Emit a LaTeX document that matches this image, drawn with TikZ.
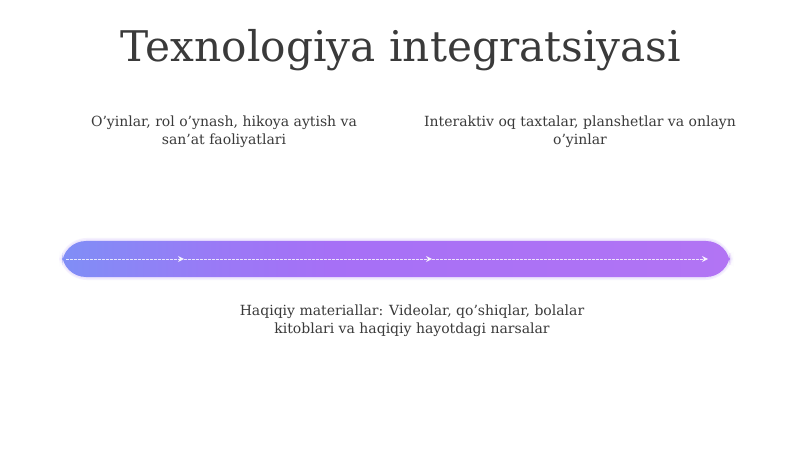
\documentclass[tikz,border=0pt]{standalone}
\usepackage{fontspec}
\setmainfont{DejaVu Serif}
\usetikzlibrary{arrows.meta}
\definecolor{txt}{HTML}{3A3A3A}
\definecolor{barA}{RGB}{128,142,246}
\definecolor{barB}{RGB}{166,112,246}
\definecolor{barC}{RGB}{178,116,244}
\definecolor{glow}{RGB}{205,180,250}
\pgfdeclarehorizontalshading{barshade}{100bp}{color(0bp)=(barA); color(25bp)=(barA); color(37bp)=(barA!30!barB); color(45bp)=(barB); color(75bp)=(barC); color(100bp)=(barC)}
\tikzset{
  lbl/.style={font=\fontsize{10.5pt}{13.5pt}\selectfont, text=txt, align=center, inner sep=0pt, anchor=base},
  flow/.style={draw=white, opacity=0.8, line width=0.6pt, dash pattern=on 2pt off 1pt, -{Stealth[length=4.5pt,width=4.5pt]}}
}
\begin{document}
\begin{tikzpicture}[x=0.75pt,y=-0.75pt]
\path[use as bounding box, fill=white] (0,0) rectangle (800,449);
% title
\node[font=\fontsize{31.7pt}{36pt}\selectfont, text=txt, inner sep=0pt, anchor=base] (title) at (401,62) {Texnologiya integratsiyasi};
% glow and bar
\fill[glow, opacity=0.18, rounded corners=21] (59,238) rectangle (733,280);
\fill[glow, opacity=0.18, rounded corners=19.5] (60.5,239.5) rectangle (731.5,278.5);
\path[shading=barshade, rounded corners=18] (62,241) rectangle (730,277);
\coordinate (s) at (66,259);
\coordinate (a1) at (184,259);
\coordinate (a2) at (432,259);
\coordinate (e) at (708,259);
\draw[flow] (s) -- (a1);
\draw[flow] (a1) -- (a2);
\draw[flow] (a2) -- (e);
% labels
\node[lbl] (left) at (224,145) {O'yinlar, rol o'ynash, hikoya aytish va\\san'at faoliyatlari};
\node[lbl] (right) at (580,145) {Interaktiv oq taxtalar, planshetlar va onlayn\\o'yinlar};
\node[lbl] (bottom) at (412,333) {Haqiqiy materiallar: Videolar, qo'shiqlar, bolalar\\kitoblari va haqiqiy hayotdagi narsalar};
\end{tikzpicture}
\end{document}
